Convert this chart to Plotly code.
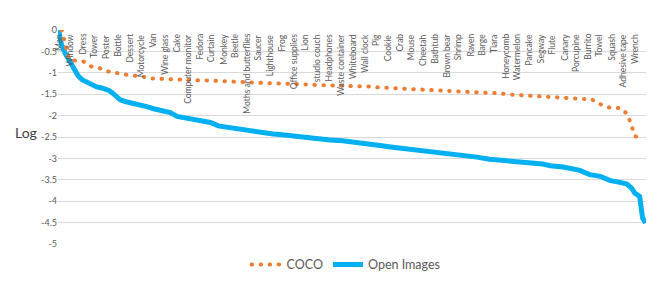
import plotly.graph_objects as go

# ---- data ----
label_names = ["Man", "Window", "Dress", "Tower", "Poster", "Bottle", "Dessert", "Motorcycle",
               "Van", "Wine glass", "Cake", "Computer monitor", "Fedora", "Curtain", "Monkey",
               "Beetle", "Moths and butterflies", "Saucer", "Lighthouse", "Frog", "Office supplies",
               "Lion", "studio couch", "Headphones", "Waste container", "Whiteboard", "Wall clock",
               "Pig", "Cookie", "Crab", "Mouse", "Cheetah", "Bathtub", "Brown bear", "Shrimp",
               "Raven", "Barge", "Tiara", "Honeycomb", "Watermelon", "Pancake", "Segway", "Flute",
               "Canary", "Porcupine", "Burrito", "Towel", "Squash", "Adhesive tape", "Wrench"]
label_rank = list(range(0, 600, 12))

oi_rank = [0, 3, 7, 12, 17, 20, 24, 28, 33, 39, 45, 52, 57, 63, 68, 74, 83, 90, 97, 107,
           114, 121, 131, 137, 148, 155, 163, 172, 182, 192, 206, 219, 226, 236, 243, 260,
           277, 290, 301, 315, 328, 341, 349, 357, 366, 382, 392, 410, 427, 440, 458, 471,
           481, 494, 502, 515, 532, 542, 553, 563, 573, 580, 585, 588, 593, 594, 595, 596, 599]
oi_log = [0.0, -0.34, -0.55, -0.76, -0.91, -1.07, -1.16, -1.21, -1.28, -1.33, -1.36, -1.42,
          -1.51, -1.63, -1.67, -1.70, -1.74, -1.79, -1.84, -1.88, -1.93, -2.02, -2.06, -2.07,
          -2.13, -2.16, -2.24, -2.27, -2.32, -2.36, -2.40, -2.43, -2.44, -2.47, -2.49, -2.53,
          -2.57, -2.59, -2.63, -2.66, -2.70, -2.74, -2.76, -2.78, -2.82, -2.86, -2.89, -2.93,
          -2.97, -3.02, -3.05, -3.08, -3.10, -3.13, -3.17, -3.20, -3.28, -3.38, -3.42, -3.52,
          -3.56, -3.60, -3.70, -3.81, -3.89, -4.04, -4.20, -4.39, -4.51]

coco_log = [0.0, -0.69, -0.72, -0.74, -0.85, -0.88, -0.96, -0.98, -1.02, -1.05,
            -1.06, -1.09, -1.13, -1.14, -1.14, -1.15, -1.15, -1.16, -1.17, -1.18,
            -1.18, -1.19, -1.19, -1.21, -1.22, -1.23, -1.24, -1.24, -1.24, -1.25,
            -1.25, -1.25, -1.26, -1.27, -1.28, -1.28, -1.29, -1.29, -1.30, -1.31,
            -1.31, -1.32, -1.32, -1.34, -1.35, -1.36, -1.37, -1.38, -1.39, -1.39,
            -1.40, -1.41, -1.43, -1.43, -1.44, -1.45, -1.46, -1.46, -1.47, -1.47,
            -1.50, -1.51, -1.52, -1.53, -1.56, -1.57, -1.57, -1.57, -1.58, -1.60,
            -1.61, -1.61, -1.61, -1.71, -1.80, -1.82, -1.82, -1.97, -2.48, -2.54]
coco_rank = list(range(len(coco_log)))

y_ticks = [0, -0.5, -1, -1.5, -2, -2.5, -3, -3.5, -4, -4.5, -5]
y_tick_text = ["0", "-0.5", "-1", "-1.5", "-2", "-2.5", "-3", "-3.5", "-4", "-4.5", "-5"]

FONT = "Lato"
GREY = "#595959"

fig = go.Figure()
fig.add_trace(go.Scatter(x=oi_rank, y=oi_log, mode="lines", name="Open Images",
                         line=dict(color="#00B0F0", width=5), xaxis="x", yaxis="y",
                         legendrank=2))
fig.add_trace(go.Scatter(x=coco_rank, y=coco_log, mode="lines", name="COCO",
                         line=dict(color="#ED7D31", width=4, dash="0.5px,8.5px"),
                         xaxis="x2", yaxis="y", legendrank=1))

for name, r in zip(label_names, label_rank):
    fig.add_annotation(x=r, y=0, xref="x", yref="y", text=name, showarrow=False,
                       textangle=-90, xanchor="center", yanchor="top", yshift=-2,
                       font=dict(family=FONT, size=8.5, color=GREY))

fig.add_annotation(x=-0.077, y=0.52, xref="paper", yref="paper", text="Log",
                   showarrow=False, xanchor="left", yanchor="middle",
                   font=dict(family=FONT, size=14, color="#404040"))

# page body has an 8px default margin, so margins are offset accordingly
fig.update_layout(
    width=666, height=296,
    margin=dict(l=50, r=28, t=22, b=60),
    paper_bgcolor="white", plot_bgcolor="white",
    font=dict(family=FONT, size=9, color=GREY),
    showlegend=True,
    legend=dict(orientation="h", x=0.49, xanchor="center", y=-0.098, yanchor="middle",
                font=dict(family=FONT, size=12.5, color=GREY), bgcolor="rgba(0,0,0,0)",
                itemwidth=30, tracegroupgap=0),
    xaxis=dict(range=[-0.5, 599.5], showgrid=False, zeroline=False, showticklabels=False,
               ticks="", showline=False, fixedrange=True),
    xaxis2=dict(range=[-0.5, 79.5], overlaying="x", showgrid=False, zeroline=False,
                showticklabels=False, ticks="", showline=False, fixedrange=True),
    yaxis=dict(range=[-5, 0], tickvals=y_ticks, ticktext=y_tick_text, showgrid=True,
               gridcolor="#D9D9D9", gridwidth=1, zeroline=False, ticks="", showline=False,
               tickfont=dict(family=FONT, size=9, color=GREY), fixedrange=True),
)

round_dots = """
document.querySelectorAll('path.js-line').forEach(function(p){
  var d = p.style.strokeDasharray;
  if (d && d !== 'none' && d !== '') { p.style.strokeLinecap = 'round'; }
});
"""

fig.write_html("out.html", post_script=round_dots)
